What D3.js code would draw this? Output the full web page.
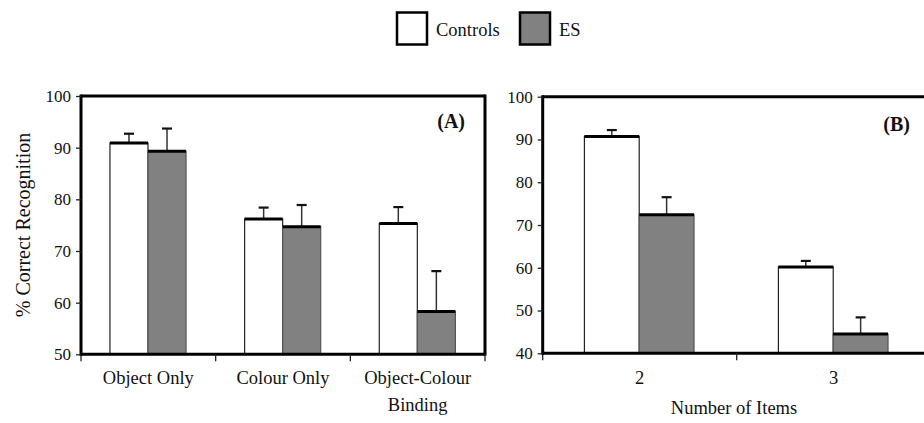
<!DOCTYPE html>
<html>
<head>
<meta charset="utf-8">
<script src="https://cdn.jsdelivr.net/npm/d3@7"></script>
<style>
  body { margin: 0; background: #fff; }
  svg text { font-family: "Liberation Serif", Tinos, "Times New Roman", Times, "Nimbus Roman", "DejaVu Serif", serif; fill: #111; }
</style>
</head>
<body>
<div id="chart"></div>
<script>
const FONT = '"Liberation Serif", Tinos, "Times New Roman", Times, "Nimbus Roman", "DejaVu Serif", serif';
const SERIES = ["Controls", "ES"];
const SERIES_FILL = { Controls: "#ffffff", ES: "#818181" };

// panel A
const categoriesA = ["Object Only", "Colour Only", "Object-Colour Binding"];
const labelLinesA = [["Object Only"], ["Colour Only"], ["Object-Colour", "Binding"]];
const controlsA = [90.9, 76.2, 75.3];
const controlsErrA = [1.8, 2.2, 3.2];
const esA = [89.3, 74.7, 58.3];
const esErrA = [4.4, 4.2, 7.8];
const ticksA = [50, 60, 70, 80, 90, 100];

// panel B
const categoriesB = ["2", "3"];
const labelLinesB = [["2"], ["3"]];
const controlsB = [90.7, 60.2];
const controlsErrB = [1.5, 1.4];
const esB = [72.4, 44.5];
const esErrB = [4.1, 3.9];
const ticksB = [40, 50, 60, 70, 80, 90, 100];

const W = 924, H = 423;

const svg = d3.select("#chart").append("svg")
  .attr("width", W)
  .attr("height", H)
  .attr("font-family", FONT);

function drawPanel({ categories, labelLines, controls, controlsErr, es, esErr, ticks,
                     left, right, clipRight, top, bottom, labelY, tag, tagX, tagY, rightBorder }) {
  const g = svg.append("g");

  const x0 = d3.scaleBand().domain(categories).range([left, right]).padding(0);
  const bw = x0.bandwidth();
  const x1 = d3.scaleBand().domain(SERIES).range([bw * 0.215, bw * 0.78]).padding(0);
  const y = d3.scaleLinear().domain([ticks[0], ticks[ticks.length - 1]]).range([bottom, top]);

  const rows = categories.map((c, i) => [
    { cat: c, s: "Controls", v: controls[i], e: controlsErr[i] },
    { cat: c, s: "ES", v: es[i], e: esErr[i] }
  ]).flat();

  // error bars first (stem hidden behind bar)
  const err = g.append("g");
  err.selectAll("line.stem").data(rows).join("line")
    .attr("class", "stem")
    .attr("x1", d => x0(d.cat) + x1(d.s) + x1.bandwidth() / 2)
    .attr("x2", d => x0(d.cat) + x1(d.s) + x1.bandwidth() / 2)
    .attr("y1", d => y(d.v))
    .attr("y2", d => y(d.v + d.e))
    .attr("stroke", "#333").attr("stroke-width", 1.5);
  err.selectAll("line.cap").data(rows).join("line")
    .attr("class", "cap")
    .attr("x1", d => x0(d.cat) + x1(d.s) + x1.bandwidth() / 2 - 5)
    .attr("x2", d => x0(d.cat) + x1(d.s) + x1.bandwidth() / 2 + 5)
    .attr("y1", d => y(d.v + d.e))
    .attr("y2", d => y(d.v + d.e))
    .attr("stroke", "#111").attr("stroke-width", 2.2);

  const bars = g.append("g");
  bars.selectAll("rect").data(rows).join("rect")
    .attr("x", d => x0(d.cat) + x1(d.s))
    .attr("y", d => y(d.v))
    .attr("width", x1.bandwidth())
    .attr("height", d => bottom - y(d.v))
    .attr("fill", d => SERIES_FILL[d.s])
    .attr("stroke", d => d.s === "ES" ? "#555" : "#222")
    .attr("stroke-width", 1.2);
  bars.selectAll("line.top").data(rows).join("line")
    .attr("class", "top")
    .attr("x1", d => x0(d.cat) + x1(d.s))
    .attr("x2", d => x0(d.cat) + x1(d.s) + x1.bandwidth())
    .attr("y1", d => y(d.v))
    .attr("y2", d => y(d.v))
    .attr("stroke", "#000").attr("stroke-width", 3);

  // frame: top + right border, bottom axis line
  g.append("line")
    .attr("x1", left).attr("x2", clipRight)
    .attr("y1", top).attr("y2", top)
    .attr("stroke", "#000").attr("stroke-width", 3);
  g.append("line")
    .attr("x1", left).attr("x2", clipRight)
    .attr("y1", bottom).attr("y2", bottom)
    .attr("stroke", "#000").attr("stroke-width", 3);
  if (rightBorder) {
    g.append("line")
      .attr("x1", clipRight).attr("x2", clipRight)
      .attr("y1", top - 1.5).attr("y2", bottom + 1.5)
      .attr("stroke", "#000").attr("stroke-width", 3);
  }

  // bottom ticks at category boundaries
  const bounds = d3.range(categories.length + 1).map(i => left + i * bw).filter(v => v <= clipRight);
  g.selectAll("line.xtick").data(bounds).join("line")
    .attr("class", "xtick")
    .attr("x1", d => d).attr("x2", d => d)
    .attr("y1", bottom).attr("y2", bottom + 7)
    .attr("stroke", "#222").attr("stroke-width", 1.3);

  // y axis
  const ax = g.append("g")
    .attr("transform", `translate(${left},0)`)
    .call(d3.axisLeft(y).tickValues(ticks).tickSize(5).tickPadding(5).tickFormat(d3.format("d")));
  ax.attr("font-family", FONT).attr("font-size", 17);
  ax.select(".domain").attr("stroke", "#000").attr("stroke-width", 3)
    .attr("d", `M0,${top - 1.5}V${bottom + 1.5}`);
  ax.selectAll(".tick line").attr("stroke", "#222").attr("stroke-width", 1.3);
  ax.selectAll(".tick text").attr("fill", "#111");

  // category labels
  const lab = g.append("g");
  categories.forEach((c, i) => {
    const t = lab.append("text")
      .attr("text-anchor", "middle")
      .attr("font-size", 18.5)
      .attr("x", x0(c) + bw / 2)
      .attr("y", labelY);
    labelLines[i].forEach((line, j) => {
      t.append("tspan")
        .attr("x", x0(c) + bw / 2)
        .attr("dy", j === 0 ? 0 : 27)
        .text(line);
    });
  });

  g.append("text")
    .attr("x", tagX).attr("y", tagY)
    .attr("text-anchor", "end")
    .attr("font-size", 20).attr("font-weight", "bold")
    .text(tag);

  return { x0, y };
}

drawPanel({
  categories: categoriesA, labelLines: labelLinesA,
  controls: controlsA, controlsErr: controlsErrA, es: esA, esErr: esErrA,
  ticks: ticksA, left: 81, right: 485, clipRight: 485, top: 96, bottom: 354.3,
  labelY: 384, tag: "(A)", tagX: 465, tagY: 128, rightBorder: true
});

drawPanel({
  categories: categoriesB, labelLines: labelLinesB,
  controls: controlsB, controlsErr: controlsErrB, es: esB, esErr: esErrB,
  ticks: ticksB, left: 542.7, right: 930.7, clipRight: 924, top: 96.7, bottom: 353.3,
  labelY: 384, tag: "(B)", tagX: 910, tagY: 131, rightBorder: false
});

// axis titles
svg.append("text")
  .attr("transform", "translate(30,225) rotate(-90)")
  .attr("text-anchor", "middle")
  .attr("font-size", 20)
  .text("% Correct Recognition");

svg.append("text")
  .attr("x", 734).attr("y", 414)
  .attr("text-anchor", "middle")
  .attr("font-size", 18.5)
  .text("Number of Items");

// legend
const legend = svg.append("g");
const legendX = [397, 520];
SERIES.forEach((s, i) => {
  legend.append("rect")
    .attr("x", legendX[i]).attr("y", 12.5)
    .attr("width", 30).attr("height", 32)
    .attr("fill", SERIES_FILL[s])
    .attr("stroke", "#000").attr("stroke-width", 2.5);
  legend.append("text")
    .attr("x", legendX[i] + 39).attr("y", 36)
    .attr("font-size", 18.5)
    .text(s);
});
</script>
</body>
</html>
